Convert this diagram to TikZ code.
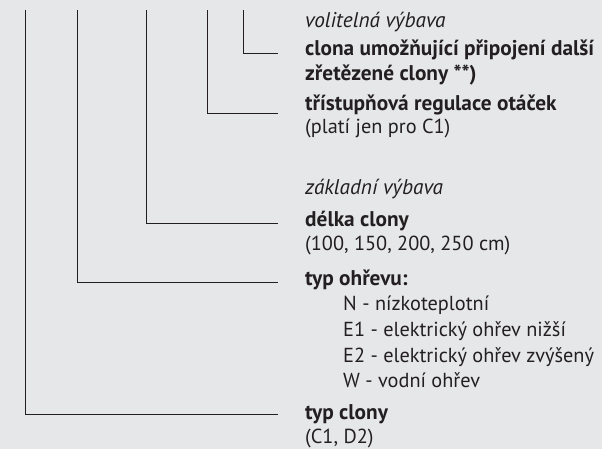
\documentclass[tikz,border=0pt]{standalone}
\usepackage{fontspec}
\setmainfont{PT Sans}
\definecolor{bg}{HTML}{E6E7E9}
\definecolor{ink}{HTML}{231F20}
\begin{document}
\begin{tikzpicture}[x=1pt,y=-1pt,
  lbl/.style={anchor=base west,inner sep=0pt,text=ink,font=\fontsize{20.3}{22}\selectfont},
  hd/.style={lbl,font=\fontsize{21.3}{22}\selectfont\bfseries},
  it/.style={lbl,font=\fontsize{21.3}{22}\selectfont\itshape},
  conn/.style={draw=ink,line width=1pt}]
\fill[bg] (0,0) rectangle (602,449);
\useasboundingbox (0,0) rectangle (602,449);
% texts
\node[it] (opt) at (305,28) {volitelná výbava};
\node[hd] (t5a) at (305,56) {clona umožňující připojení další};
\node[hd] (t5b) at (305,81) {zřetězené clony **)};
\node[hd] (t4a) at (305,111) {třístupňová regulace otáček};
\node[lbl] (t4b) at (305,134) {(platí jen pro C1)};
\node[it] (base) at (305,195) {základní výbava};
\node[hd] (t3a) at (305,226) {délka clony};
\node[lbl] (t3b) at (305,250) {(100, 150, 200, 250 cm)};
\node[hd] (t2a) at (305,285) {typ ohřevu:};
\node[lbl] (t2b) at (343,310) {N - nízkoteplotní};
\node[lbl] (t2c) at (343,336) {E1 - elektrický ohřev nižší};
\node[lbl] (t2d) at (343,362) {E2 - elektrický ohřev zvýšený};
\node[lbl] (t2e) at (343,387) {W - vodní ohřev};
\node[hd] (t1a) at (305,419) {typ clony};
\node[lbl] (t1b) at (305,443) {(C1, D2)};
% connector ends
\coordinate (s1) at (25,10);  \coordinate (e1) at (278,414);
\coordinate (s2) at (77,10);  \coordinate (e2) at (278,282);
\coordinate (s3) at (146,10); \coordinate (e3) at (278,223);
\coordinate (s4) at (207,10); \coordinate (e4) at (278,114);
\coordinate (s5) at (243,10); \coordinate (e5) at (278,54);
\draw[conn] (s1) |- (e1);
\draw[conn] (s2) |- (e2);
\draw[conn] (s3) |- (e3);
\draw[conn] (s4) |- (e4);
\draw[conn] (s5) |- (e5);
\end{tikzpicture}
\end{document}
